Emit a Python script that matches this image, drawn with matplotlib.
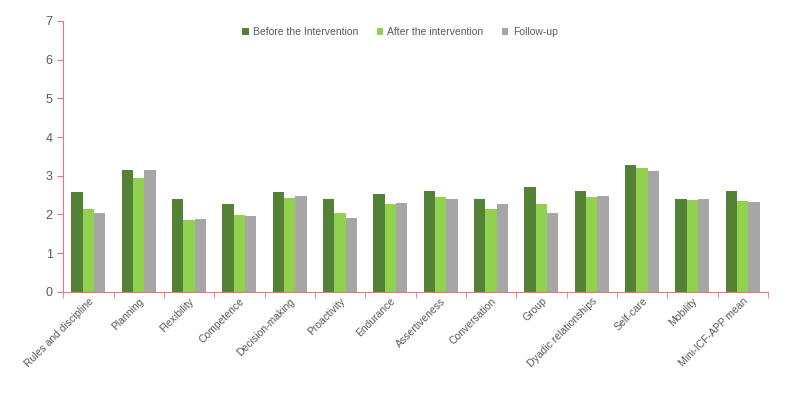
import numpy as np
import matplotlib.pyplot as plt

categories = ["Rules and discipline", "Planning", "Flexibility", "Competence",
              "Decision-making", "Proactivity", "Endurance", "Assertiveness",
              "Conversation", "Group", "Dyadic relationships", "Self-care",
              "Mobility", "Mini-ICF-APP mean"]
before = [2.57, 3.14, 2.39, 2.26, 2.57, 2.39, 2.53, 2.60, 2.39, 2.70, 2.60, 3.29, 2.39, 2.60]
after = [2.15, 2.95, 1.86, 1.99, 2.42, 2.04, 2.26, 2.44, 2.14, 2.26, 2.45, 3.19, 2.37, 2.35]
follow = [2.04, 3.14, 1.88, 1.95, 2.49, 1.91, 2.29, 2.40, 2.26, 2.04, 2.49, 3.11, 2.40, 2.33]
series_names = ["Before the Intervention", "After the intervention", "Follow-up"]
colors = ["#538135", "#92D050", "#A6A6A6"]

plt.rcParams['font.family'] = ['Liberation Sans', 'DejaVu Sans']

fig = plt.figure(figsize=(8, 4.01), dpi=100)
ax = fig.add_axes([0.079, 0.272, 0.881, 0.676])

x = np.arange(len(categories))
w = 0.225
for i, (vals, name, c) in enumerate(zip([before, after, follow], series_names, colors)):
    ax.bar(x + (i - 1) * w, vals, width=w, color=c, label=name)

ax.set_xlim(-0.5, len(categories) - 0.5)
ax.set_ylim(0, 7)
ax.set_yticks(range(8))
axis_red = "#E8777A"
for s in ["top", "right"]:
    ax.spines[s].set_visible(False)
ax.spines["left"].set_color(axis_red)
ax.spines["bottom"].set_color(axis_red)

ax.set_xticks(x)
ax.set_xticklabels(categories, rotation=45, ha="right", rotation_mode="anchor",
                   fontsize=7.5, color="#595959")
ax.tick_params(axis="x", which="major", length=0, pad=3)
ax.set_xticks(np.arange(-0.5, len(categories)), minor=True)
ax.tick_params(axis="x", which="minor", length=4, color=axis_red, direction="out")
ax.tick_params(axis="y", length=4, color=axis_red, labelsize=9, labelcolor="#595959")

fig.legend(*ax.get_legend_handles_labels(), loc="upper center",
           bbox_to_anchor=(0.5, 0.955), ncol=3, frameon=False,
           fontsize=7.5, labelcolor="#595959", handlelength=0.6, handleheight=0.6,
           columnspacing=1.8, handletextpad=0.4)

fig.savefig("out.png", dpi=100)
